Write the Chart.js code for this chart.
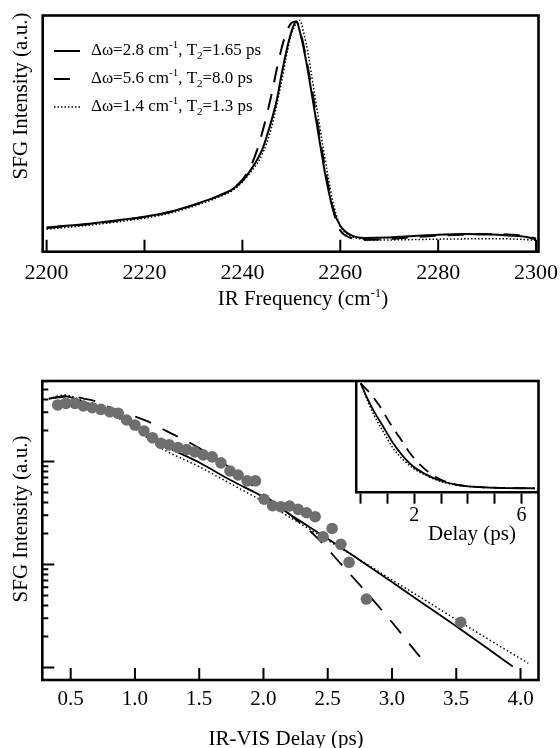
<!DOCTYPE html>
<html>
<head>
<meta charset="utf-8">
<script src="https://cdn.jsdelivr.net/npm/chart.js@4.4.1/dist/chart.umd.min.js"></script>
<style>
  body { margin: 0; background: #fff; width: 560px; height: 748px; position: relative; overflow: hidden;
         font-family: "Liberation Serif", "Times New Roman", serif; }
  canvas { position: absolute; }
  .t { position: absolute; font-size: 21px; color: #000; white-space: nowrap; line-height: 1; }
  .t sup { font-size: 13px; position: relative; top: -8px; vertical-align: baseline; }
  .rot { transform: translate(-50%, -50%) rotate(-90deg); }
  .ctr { transform: translate(-50%, -50%); }
</style>
</head>
<body>
<canvas id="topChart" width="560" height="300" style="left:0;top:0"></canvas>
<canvas id="bottomChart" width="560" height="448" style="left:0;top:300px"></canvas>
<canvas id="insetChart" width="230" height="180" style="left:330px;top:370px"></canvas>

<div class="t rot" style="left:20px;top:96px">SFG Intensity (a.u.)</div>
<div class="t ctr" style="left:303px;top:298px">IR Frequency (cm<sup>-1</sup>)</div>
<div class="t rot" style="left:20px;top:519px">SFG Intensity (a.u.)</div>
<div class="t ctr" style="left:286px;top:738px">IR-VIS Delay (ps)</div>
<div class="t ctr" style="left:472px;top:533px">Delay (ps)</div>

<script>
// ---- top panel: SFG spectra ----
var solidFreq = [2200, 2210, 2220, 2225, 2230, 2235, 2238, 2240, 2242, 2244, 2245, 2246, 2247, 2248, 2249, 2250, 2251,
                 2252, 2253, 2254, 2255, 2256, 2257, 2258.5, 2260, 2262, 2265, 2270, 2275, 2280, 2285, 2290, 2295, 2298, 2300];
var solidSFG = [0.102, 0.122, 0.148, 0.168, 0.198, 0.235, 0.265, 0.30, 0.355, 0.43, 0.49, 0.56, 0.64, 0.75, 0.85, 0.93, 0.975,
                0.91, 0.81, 0.69, 0.565, 0.44, 0.32, 0.18, 0.11, 0.072, 0.058, 0.06, 0.066, 0.072, 0.075, 0.074, 0.068, 0.062, 0.052];

var dashedFreq = [2200, 2210, 2220, 2225, 2230, 2235, 2238, 2240, 2241, 2242, 2243, 2244, 2245, 2246, 2247, 2248, 2249, 2250, 2251,
                  2252, 2253, 2254, 2255, 2256, 2257, 2258, 2259, 2260, 2262, 2265, 2270, 2275, 2280, 2285, 2290, 2295, 2298, 2300];
var dashedSFG = [0.1, 0.12, 0.147, 0.167, 0.197, 0.235, 0.267, 0.305, 0.335, 0.375, 0.43, 0.5, 0.58, 0.67, 0.77, 0.86, 0.93, 0.968, 0.975,
                 0.92, 0.82, 0.71, 0.59, 0.46, 0.34, 0.23, 0.14, 0.09, 0.06, 0.05, 0.054, 0.062, 0.068, 0.072, 0.074, 0.072, 0.066, 0.055];

var dottedFreq = [2200, 2210, 2220, 2225, 2230, 2235, 2238, 2240, 2242, 2244, 2246, 2248, 2249, 2250, 2251, 2251.7,
                  2252.5, 2253.5, 2254.5, 2255.5, 2256.5, 2257.5, 2258.5, 2260, 2262, 2264, 2267, 2270, 2280, 2290, 2295, 2300];
var dottedSFG = [0.095, 0.115, 0.142, 0.162, 0.192, 0.23, 0.26, 0.295, 0.345, 0.41, 0.53, 0.72, 0.83, 0.92, 0.965, 0.98,
                 0.93, 0.83, 0.70, 0.57, 0.44, 0.32, 0.21, 0.11, 0.068, 0.055, 0.05, 0.05, 0.053, 0.055, 0.054, 0.048];

var freqTicks = [2200, 2220, 2240, 2260, 2280, 2300];

var legendLabels = [
    [['Δω=2.8 cm', ''], ['-1', 'sup'], [', T', ''], ['2', 'sub'], ['=1.65 ps', '']],
    [['Δω=5.6 cm', ''], ['-1', 'sup'], [', T', ''], ['2', 'sub'], ['=8.0 ps', '']],
    [['Δω=1.4 cm', ''], ['-1', 'sup'], [', T', ''], ['2', 'sub'], ['=1.3 ps', '']]
];

// ---- bottom panel: delay scan (log) ----
var delayPts = [0.399, 0.463, 0.533, 0.598, 0.668, 0.735, 0.805, 0.870, 0.935, 1.0, 1.07, 1.137, 1.202, 1.267, 1.334, 1.402,
                1.466, 1.531, 1.601, 1.669, 1.739, 1.803, 1.873, 1.938, 2.005, 2.071, 2.135, 2.203, 2.27, 2.335, 2.402,
                2.464, 2.534, 2.602, 2.666, 2.801, 3.535];
var sfgPts = [3.54, 3.67, 3.67, 3.46, 3.33, 3.21, 3.04, 2.94, 2.53, 2.26, 1.98, 1.70, 1.50, 1.45, 1.37, 1.31,
              1.24, 1.16, 1.11, 0.97, 0.81, 0.74, 0.65, 0.65, 0.43, 0.372, 0.364, 0.370, 0.343, 0.318, 0.291,
              0.186, 0.224, 0.157, 0.105, 0.0462, 0.0275];

var solidDelay = [0.33, 0.45, 0.6, 0.8, 1.0, 1.2, 1.5, 1.75, 2.0, 2.25, 2.5, 2.75, 3.0, 3.25, 3.5, 3.75, 3.94];
var solidFit = [4.07, 4.32, 3.78, 3.05, 2.21, 1.50, 0.977, 0.653, 0.452, 0.282, 0.178, 0.110, 0.0676, 0.0412, 0.0251, 0.0151, 0.0102];

var dottedDelay = [0.33, 0.45, 0.6, 0.8, 1.0, 1.2, 1.5, 1.75, 2.0, 2.25, 2.5, 2.75, 3.0, 3.25, 3.5, 3.75, 4.06];
var dottedFit = [4.07, 4.42, 3.85, 2.95, 2.09, 1.36, 0.891, 0.603, 0.407, 0.266, 0.172, 0.111, 0.0708, 0.0457, 0.0292, 0.0188, 0.011];

var dashedDelay = [0.33, 0.5, 0.6, 0.7, 0.8, 0.9, 1.0, 1.1, 1.25, 1.4, 1.5, 1.75, 2.0, 2.2, 2.4, 2.6, 2.8, 3.0, 3.2, 3.28];
var dashedFit = [4.07, 4.3, 4.09, 3.83, 3.37, 3.03, 2.74, 2.45, 1.96, 1.585, 1.35, 0.851, 0.479, 0.309, 0.191, 0.102, 0.0537, 0.0275, 0.0135, 0.01035];

var delayTicks = [0.5, 1.0, 1.5, 2.0, 2.5, 3.0, 3.5, 4.0];
var logMajor = [0.01, 0.1, 1];
var logMinor = [0.02, 0.03, 0.04, 0.05, 0.06, 0.07, 0.08, 0.09, 0.2, 0.3, 0.4, 0.5, 0.6, 0.7, 0.8, 0.9, 2, 3, 4, 5, 6];

// ---- inset: linear decay ----
var insetDelay = [0, 0.22, 0.47, 0.84, 1.21, 1.59, 1.96, 2.46, 2.96, 3.58, 4.45, 5.45, 6.5];
var insetSolid = [1.0, 0.87, 0.745, 0.587, 0.429, 0.302, 0.207, 0.128, 0.074, 0.033, 0.011, 0.002, 0];
var insetDotted = [1.0, 0.855, 0.71, 0.54, 0.38, 0.27, 0.19, 0.12, 0.067, 0.03, 0.011, 0.002, 0];
var insetDashedDelay = [0, 0.35, 0.72, 1.09, 1.47, 1.84, 2.22, 2.59, 2.96, 3.58, 4.45, 5.45, 6.5];
var insetDashed = [1.0, 0.905, 0.778, 0.62, 0.476, 0.333, 0.222, 0.143, 0.086, 0.035, 0.011, 0.003, 0];
var insetTicks = [0, 1, 2, 3, 4, 5, 6];
var insetLabels = [2, 6];

Chart.defaults.font.family = '"Liberation Serif", "Times New Roman", serif';
Chart.defaults.color = '#000';

function pts(xs, ys) {
    return xs.map(function (x, i) { return { x: x, y: ys[i] }; });
}

function line(xs, ys, width, dash) {
    return {
        data: pts(xs, ys),
        showLine: true,
        borderColor: '#000',
        borderWidth: width,
        borderDash: dash,
        pointRadius: 0,
        cubicInterpolationMode: 'monotone'
    };
}

// fixed axis height, and no extra room for the end labels
function fixHeight(h) {
    return function (s) { s.height = h; s.paddingLeft = 0; s.paddingRight = 0; };
}

// black box round the plot area
var frame = {
    id: 'frame',
    afterDraw: function (c) {
        var a = c.chartArea, ctx = c.ctx;
        ctx.save();
        ctx.lineWidth = 2.6;
        ctx.strokeStyle = '#000';
        ctx.strokeRect(a.left, a.top, a.right - a.left, a.bottom - a.top);
        ctx.restore();
    }
};

// ticks pointing into the plot area
function innerTicks(xList, yList) {
    return {
        id: 'innerTicks',
        afterDraw: function (c) {
            var a = c.chartArea, ctx = c.ctx;
            ctx.save();
            ctx.lineWidth = 2;
            ctx.strokeStyle = '#000';
            ctx.beginPath();
            xList.forEach(function (t) {
                var p = c.scales.x.getPixelForValue(t[0]);
                ctx.moveTo(p, a.bottom);
                ctx.lineTo(p, a.bottom - t[1]);
            });
            yList.forEach(function (t) {
                var p = c.scales.y.getPixelForValue(t[0]);
                ctx.moveTo(a.left, p);
                ctx.lineTo(a.left + t[1], p);
            });
            ctx.stroke();
            ctx.restore();
        }
    };
}

var topLegend = {
    id: 'topLegend',
    afterDraw: function (c) {
        var ctx = c.ctx;
        ctx.save();
        legendLabels.forEach(function (parts, i) {
            var ds = c.data.datasets[i];
            var y = 51 + i * 28;
            ctx.strokeStyle = '#000';
            ctx.lineWidth = ds.borderWidth;
            ctx.setLineDash(ds.borderDash || []);
            ctx.beginPath();
            ctx.moveTo(54, y);
            ctx.lineTo(80, y);
            ctx.stroke();
            ctx.setLineDash([]);
            var x = 91;
            ctx.fillStyle = '#000';
            ctx.textBaseline = 'middle';
            parts.forEach(function (p) {
                ctx.font = (p[1] ? 11 : 17) + 'px "Liberation Serif"';
                var dy = p[1] === 'sup' ? -6 : (p[1] === 'sub' ? 5 : 0);
                ctx.fillText(p[0], x, y + dy);
                x += ctx.measureText(p[0]).width;
            });
        });
        ctx.restore();
    }
};

new Chart(document.getElementById('topChart'), {
    type: 'scatter',
    data: {
        datasets: [
            line(solidFreq, solidSFG, 2, []),
            line(dashedFreq, dashedSFG, 2, [16, 12]),
            line(dottedFreq, dottedSFG, 1.5, [1.5, 2])
        ]
    },
    options: {
        responsive: false,
        animation: false,
        devicePixelRatio: 1,
        layout: { padding: { left: 42.7, right: 21.5, top: 15.5, bottom: 0 } },
        plugins: { legend: { display: false }, tooltip: { enabled: false } },
        scales: {
            x: {
                type: 'linear', min: 2199.2, max: 2300.5,
                afterBuildTicks: function (s) { s.ticks = freqTicks.map(function (v) { return { value: v }; }); },
                afterFit: fixHeight(48.3),
                grid: { display: false, drawTicks: false },
                border: { display: false },
                ticks: { font: { size: 22 }, padding: 8, maxRotation: 0, callback: function (v) { return v; } }
            },
            y: { type: 'linear', min: 0, max: 1, display: false }
        }
    },
    plugins: [innerTicks(freqTicks.map(function (v) { return [v, 12]; }), []), frame, topLegend]
});

new Chart(document.getElementById('bottomChart'), {
    type: 'scatter',
    data: {
        datasets: [
            {
                data: pts(delayPts, sfgPts),
                pointRadius: 5.8,
                pointBackgroundColor: '#6e6e6e',
                pointBorderWidth: 0
            },
            line(solidDelay, solidFit, 1.8, []),
            line(dashedDelay, dashedFit, 1.8, [17, 13]),
            line(dottedDelay, dottedFit, 1.5, [1.5, 2.5])
        ]
    },
    options: {
        responsive: false,
        animation: false,
        devicePixelRatio: 1,
        layout: { padding: { left: 42.3, right: 21.5, top: 81, bottom: 0 } },
        plugins: { legend: { display: false }, tooltip: { enabled: false } },
        scales: {
            x: {
                type: 'linear', min: 0.279, max: 4.14,
                afterBuildTicks: function (s) { s.ticks = delayTicks.map(function (v) { return { value: v }; }); },
                afterFit: fixHeight(68),
                grid: { display: false, drawTicks: false },
                border: { display: false },
                ticks: { font: { size: 21 }, padding: 7, maxRotation: 0, callback: function (v) { return v.toFixed(1); } }
            },
            y: { type: 'logarithmic', min: 0.00756, max: 6.05, display: false }
        }
    },
    plugins: [
        innerTicks(delayTicks.map(function (v) { return [v, 12]; }),
                   logMajor.map(function (v) { return [v, 12]; }).concat(logMinor.map(function (v) { return [v, 6]; }))),
        frame
    ]
});

new Chart(document.getElementById('insetChart'), {
    type: 'scatter',
    data: {
        datasets: [
            line(insetDelay, insetSolid, 1.8, []),
            line(insetDashedDelay, insetDashed, 1.8, [12, 8]),
            line(insetDelay, insetDotted, 1.5, [1.5, 2])
        ]
    },
    options: {
        responsive: false,
        animation: false,
        devicePixelRatio: 1,
        layout: { padding: { left: 26.7, right: 21.5, top: 11, bottom: 0 } },
        plugins: { legend: { display: false }, tooltip: { enabled: false } },
        scales: {
            x: {
                type: 'linear', min: -0.15, max: 6.63,
                afterBuildTicks: function (s) { s.ticks = insetTicks.map(function (v) { return { value: v }; }); },
                afterFit: fixHeight(57.3),
                grid: { display: true, drawOnChartArea: false, drawTicks: true, tickLength: 11, tickWidth: 2, tickColor: '#000' },
                border: { display: true, color: '#000', width: 2.5 },
                ticks: { font: { size: 20 }, padding: 0, maxRotation: 0, autoSkip: false,
                         callback: function (v) { return insetLabels.indexOf(v) >= 0 ? v : ''; } }
            },
            y: {
                type: 'linear', min: -0.042, max: 1.022,
                afterFit: function (s) { s.width = 0; },
                grid: { display: false, drawTicks: false },
                border: { display: true, color: '#000', width: 2.5 },
                ticks: { display: false }
            }
        }
    }
});
</script>
</body>
</html>
